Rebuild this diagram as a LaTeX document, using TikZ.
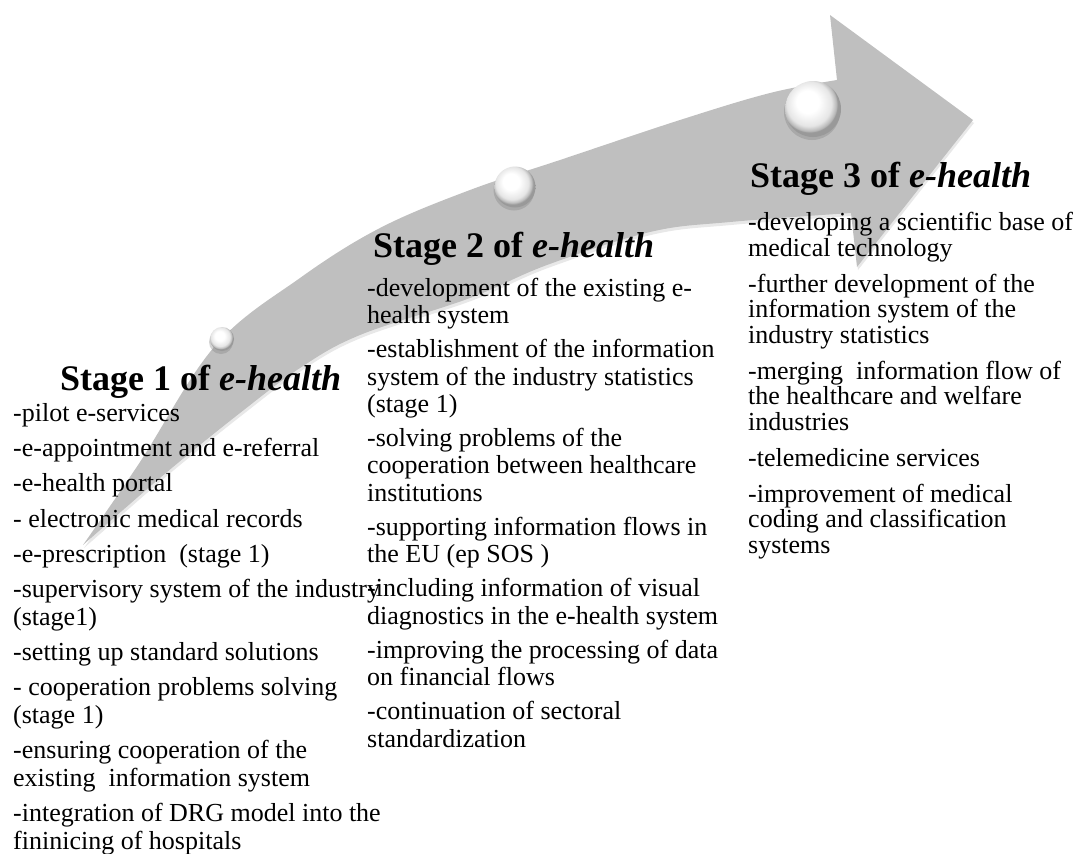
\documentclass[tikz,border=0pt]{standalone}
\usepackage{fontspec}
\setmainfont{Liberation Serif}
\usetikzlibrary{shadows}
\pgfdeclareradialshading{knobshade}{\pgfpoint{-6bp}{8bp}}{color(0bp)=(white); color(10bp)=(white); color(20bp)=(black!10); color(24bp)=(black!28); color(25bp)=(black!40); color(50bp)=(black!40)}

\begin{document}
\begin{tikzpicture}[x=1pt, y=-1pt,
	arrow band/.style={fill=black!25, drop shadow={opacity=0.18, shadow xshift=1pt, shadow yshift=-3pt}},
	knob/.style={circle, inner sep=0pt, shading=knobshade, drop shadow={opacity=0.35, shadow xshift=-1pt, shadow yshift=-3pt}},
	stage head/.style={anchor=base west, inner sep=0pt, font=\fontsize{36}{40}\selectfont\bfseries},
	stage body/.style={anchor=base west, inner sep=0pt, align=left, font=\fontsize{26}{27.5}\selectfont},
]
\useasboundingbox (0,0) rectangle (1079,854);
%
\fill[arrow band] plot[smooth, tension=0.6] coordinates {(83,545) (140,462) (215,346) (300,278) (380,228) (470,190) (560,160) (680,120) (770,93) (837,80)}
	-- (830,15) -- (973,120) -- (857,267) -- (851,213)
	-- plot[smooth, tension=0.6] coordinates {(851,213) (730,222) (650,232) (547,265) (470,298) (360,335) (300,368) (240,413) (173,467) (123,510) (83,545)} -- cycle;
%
\node [knob, minimum size=24pt] (ball1) at (222,339) {};
\node [knob, minimum size=41pt] (ball2) at (515,187) {};
\node [knob, minimum size=56pt] (ball3) at (813,109) {};
%
\node [stage head] (s1) at (60,390) {Stage 1 of \textit{e-health}};
\node [stage head] (s2) at (373,257) {Stage 2 of \textit{e-health}};
\node [stage head] (s3) at (750,187) {Stage 3 of \textit{e-health}};
%
\node [stage body] (b1) at (13,849) {-pilot e-services\\[7.8pt]
	-e-appointment and e-referral\\[7.8pt]
	-e-health portal\\[7.8pt]
	- electronic medical records\\[7.8pt]
	-e-prescription\ \ (stage 1)\\[7.8pt]
	-supervisory system of the industry\\(stage1)\\[7.8pt]
	-setting up standard solutions\\[7.8pt]
	- cooperation problems solving\\(stage 1)\\[7.8pt]
	-ensuring cooperation of the\\existing\ \ information system\\[7.8pt]
	-integration of DRG model into the\\fininicing of hospitals};
\node [stage body] (b2) at (367,747) {-development of the existing e-\\health system\\[6.4pt]
	-establishment of the information\\system of the industry statistics\\(stage 1)\\[6.4pt]
	-solving problems of the\\cooperation between healthcare\\institutions\\[6.4pt]
	-supporting information flows in\\the EU (ep SOS )\\[6.4pt]
	-including information of visual\\diagnostics in the e-health system\\[6.4pt]
	-improving the processing of data\\on financial flows\\[6.4pt]
	-continuation of sectoral\\standardization};
\node [stage body, font=\fontsize{26}{25.5}\selectfont] (b3) at (748,553) {-developing a scientific base of\\medical technology\\[10.4pt]
	-further development of the\\information system of the\\industry statistics\\[10.4pt]
	-merging\ \ information flow of\\the healthcare and welfare\\industries\\[10.4pt]
	-telemedicine services\\[10.4pt]
	-improvement of medical\\coding and classification\\systems};
\end{tikzpicture}
\end{document}
